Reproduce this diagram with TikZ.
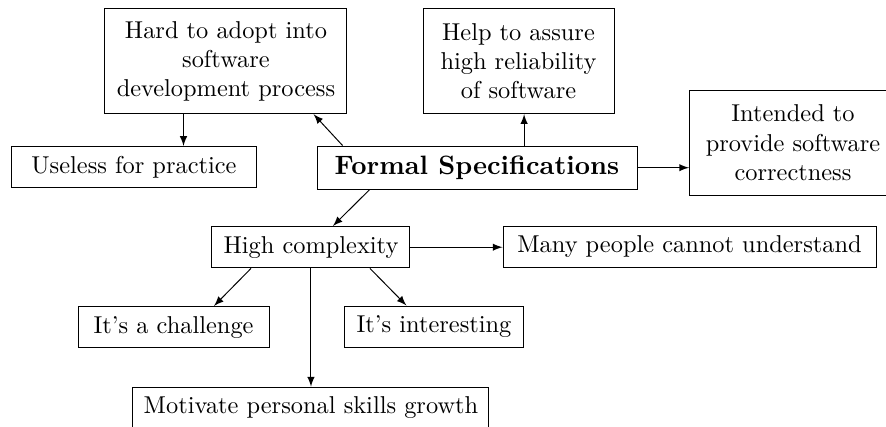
\documentclass[tikz,border=0pt]{standalone}
\usetikzlibrary{arrows}
\begin{document}
\begin{tikzpicture}[box/.style={draw, inner xsep=4pt, inner ysep=4pt, align=center}, tall/.style={box, minimum height=1.513cm}, arr/.style={-latex}]
    \useasboundingbox (0,0) rectangle (12.77,6.15);
    \node[box, minimum width=4.612cm, font=\fontsize{10.9}{13}\bfseries] (formal) at (6.875,3.733) {Formal Specifications};
    \node[tall, minimum width=3.488cm] (hard) at (3.257,5.268) {Hard to adopt into\\software\\development process};
    \node[box, minimum width=3.517cm] (useless) at (1.931,3.74) {Useless for practice};
    \node[tall, minimum width=2.753cm] (help) at (7.473,5.268) {Help to assure\\high reliability\\of software};
    \node[tall, minimum width=2.983cm, anchor=west] (intended) at (9.931,4.093) {Intended to\\provide software\\correctness};
    \node[box, minimum width=2.854cm] (high) at (4.482,2.587) {High complexity};
    \node[box, minimum width=5.376cm] (many) at (9.938,2.594) {Many people cannot understand};
    \node[box, minimum width=2.753cm] (challenge) at (2.501,1.434) {It's a challenge};
    \node[box, minimum width=2.594cm] (interesting) at (6.255,1.441) {It's interesting};
    \node[box, minimum width=5.131cm, anchor=north] (motivate) at (4.482,0.577) {Motivate personal skills growth};
    \draw[arr] ([xshift=10.7pt]formal.north west) -- ([xshift=-13.9pt]hard.south east);
    \draw[arr] ([xshift=32.4pt]hard.south west) -- ([xshift=32.4pt]hard.south west |- useless.north);
    \draw[arr] ([xshift=2.3pt]help.south |- formal.north) -- ([xshift=2.3pt]help.south);
    \draw[arr] (formal.east) -- (formal.east -| intended.west);
    \draw[arr] ([xshift=21.7pt]formal.south west) -- ([xshift=9pt]high.north);
    \draw[arr] (high.east) -- (high.east -| many.west);
    \draw[arr] ([xshift=-24.6pt]high.south) -- ([xshift=16.6pt]challenge.north);
    \draw[arr] ([xshift=24.2pt]high.south) -- ([xshift=25.8pt]interesting.north west);
    \draw[arr] (high.south) -- (motivate.north);
\end{tikzpicture}
\end{document}
